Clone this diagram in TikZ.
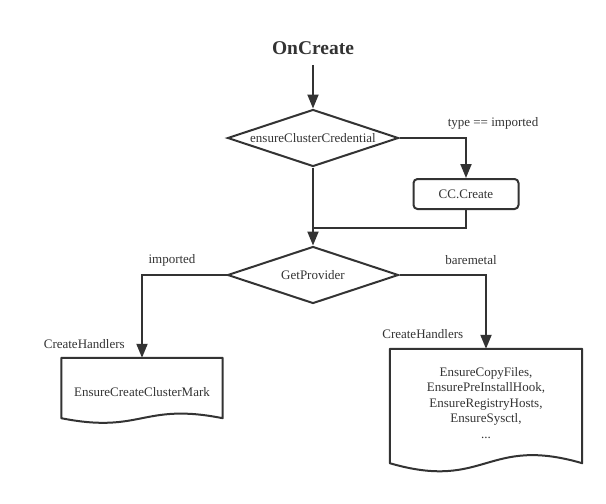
\documentclass[tikz,border=0pt]{standalone}
\usepackage{fontspec}
\setmainfont{Liberation Serif}
\usetikzlibrary{arrows.meta, positioning, shapes.geometric}
\definecolor{ink}{HTML}{333333}

\begin{document}
\begin{tikzpicture}[
        node distance=90pt,
        every node/.style={align=center, text=ink, font=\fontsize{13}{15.5}\selectfont},
        title/.style={font=\fontsize{19.5}{22}\selectfont\bfseries, inner ysep=10pt},
        decision/.style={draw=ink, line width=2pt, diamond, aspect=3, inner sep=0pt, minimum width=171pt, minimum height=57pt},
        process/.style={draw=ink, line width=2pt, rounded corners=4pt, minimum width=105pt, minimum height=30pt},
        outline/.style={draw=ink, line width=2pt, line join=round},
        line/.style={draw=ink, line width=2pt},
        arrow/.style={line, -{Triangle[length=14pt, width=11pt]}}
        ]

        \useasboundingbox (0,0) rectangle (606pt,-504pt);

        % Nodes
        \node[title] (OnCreate) at (313pt,-48pt) {OnCreate};
        \node[decision, below of=OnCreate] (Ensure_cred) {ensureClusterCredential};
        \node[process, right of=Ensure_cred, xshift=63pt, yshift=-56pt] (CC_create) {CC.Create};
        \coordinate[below of=Ensure_cred] (Merge);
        \node[decision, below of=Ensure_cred, yshift=-47pt] (Provider) {GetProvider};
        \node[left of=Provider, xshift=-81pt, yshift=-117pt, minimum width=161pt, minimum height=68pt] (Handlers_imported) {EnsureCreateClusterMark};
        \node[right of=Provider, xshift=83pt, yshift=-128pt, minimum width=192pt, minimum height=108pt] (Handlers_baremetal) {EnsureCopyFiles,\\ EnsurePreInstallHook,\\ EnsureRegistryHosts,\\ EnsureSysctl,\\ ...};
        \node[anchor=base west, xshift=-21pt, yshift=9pt] (Label_imported) at (Handlers_imported.north west) {CreateHandlers};
        \node[anchor=base west, xshift=-11pt, yshift=10pt] (Label_baremetal) at (Handlers_baremetal.north west) {CreateHandlers};

        % Document shapes
        \draw[outline] (Handlers_imported.north west) -- ([yshift=8pt]Handlers_imported.south west)
            .. controls ([xshift=80.5pt, yshift=-8pt]Handlers_imported.south west) and ([xshift=-80.5pt, yshift=24pt]Handlers_imported.south east) .. ([yshift=8pt]Handlers_imported.south east)
            -- (Handlers_imported.north east) -- cycle;
        \draw[outline] (Handlers_baremetal.north west) -- ([yshift=-6pt]Handlers_baremetal.south west)
            .. controls ([xshift=96pt, yshift=-34pt]Handlers_baremetal.south west) and ([xshift=-96pt, yshift=22pt]Handlers_baremetal.south east) .. ([yshift=-6pt]Handlers_baremetal.south east)
            -- (Handlers_baremetal.north east) -- cycle;

        % Connectors
        \draw [arrow] (OnCreate) -- (Ensure_cred);
        \draw [arrow] (Ensure_cred.east) -| (CC_create.north) node[pos=0.5, xshift=27pt, yshift=15pt] (Type_check) {type == imported};
        \draw [line] (CC_create.south) |- (Merge);
        \draw [arrow] (Ensure_cred) -- (Provider);
        \draw [arrow] (Provider.west) -| (Handlers_imported.north) node[pos=0.5, xshift=30pt, yshift=15pt] (Case_imported) {imported};
        \draw [arrow] (Provider.east) -| (Handlers_baremetal.north) node[pos=0.5, xshift=-15pt, yshift=15pt] (Case_baremetal) {baremetal};

    \end{tikzpicture}
\end{document}
